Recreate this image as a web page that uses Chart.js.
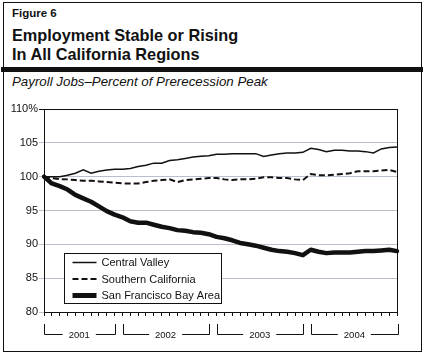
<!DOCTYPE html>
<html>
<head>
<meta charset="utf-8">
<script src="https://cdn.jsdelivr.net/npm/chart.js@4.4.1/dist/chart.umd.min.js"></script>
<style>
  html, body { margin: 0; padding: 0; background: #fff; }
  body { width: 428px; height: 355px; position: relative; overflow: hidden; font-family: "Liberation Sans", Arial, sans-serif; color: #111; }
  #frame { position: absolute; left: 3px; top: 2px; width: 417px; height: 348px; border: 1px solid #111; box-sizing: content-box; }
  #rule { position: absolute; left: 1px; top: 67px; width: 422px; height: 5px; background: #111; }
  .t { position: absolute; white-space: nowrap; }
  #fig { left: 12px; top: 7px; font-size: 11.5px; font-weight: bold; }
  #title { left: 12px; top: 26px; font-size: 16.3px; font-weight: bold; line-height: 18.5px; }
  #sub { left: 12px; top: 74px; font-size: 13.3px; font-style: italic; }
  canvas { position: absolute; left: 0; top: 0; }
</style>
</head>
<body>
<div id="frame"></div>
<div id="rule"></div>
<div class="t" id="fig">Figure 6</div>
<div class="t" id="title">Employment Stable or Rising<br>In All California Regions</div>
<div class="t" id="sub">Payroll Jobs–Percent of Prerecession Peak</div>
<canvas id="c" width="428" height="355"></canvas>
<script>
const months = [
  'Mar 2001','Apr 2001','May 2001','Jun 2001','Jul 2001','Aug 2001','Sep 2001','Oct 2001','Nov 2001','Dec 2001',
  'Jan 2002','Feb 2002','Mar 2002','Apr 2002','May 2002','Jun 2002','Jul 2002','Aug 2002','Sep 2002','Oct 2002','Nov 2002','Dec 2002',
  'Jan 2003','Feb 2003','Mar 2003','Apr 2003','May 2003','Jun 2003','Jul 2003','Aug 2003','Sep 2003','Oct 2003','Nov 2003','Dec 2003',
  'Jan 2004','Feb 2004','Mar 2004','Apr 2004','May 2004','Jun 2004','Jul 2004','Aug 2004','Sep 2004','Oct 2004','Nov 2004','Dec 2004'
];
const years = ['2001','2002','2003','2004'];
const yTicks = [80, 85, 90, 95, 100, 105, 110];
const seriesNames = ['Central Valley','Southern California','San Francisco Bay Area'];

const centralValley = [
  100.0,100.0,100.0,100.2,100.5,101.0,100.5,100.8,101.0,101.1,
  101.1,101.2,101.5,101.7,102.0,102.0,102.4,102.5,102.7,102.9,103.0,103.1,
  103.3,103.3,103.4,103.4,103.4,103.4,103.0,103.2,103.4,103.5,103.5,103.6,
  104.2,104.0,103.7,103.9,103.9,103.8,103.8,103.7,103.5,104.1,104.3,104.4
];
const southernCalifornia = [
  100.0,99.8,99.65,99.6,99.5,99.4,99.4,99.3,99.2,99.1,
  99.0,99.0,99.0,99.2,99.4,99.5,99.6,99.2,99.5,99.6,99.7,99.8,
  99.8,99.6,99.5,99.6,99.6,99.7,99.9,99.9,99.8,99.8,99.6,99.5,
  100.4,100.2,100.2,100.3,100.4,100.5,100.8,100.8,100.8,100.9,101.0,100.7
];
const sfBayArea = [
  100.0,99.0,98.6,98.1,97.3,96.8,96.3,95.6,94.9,94.4,
  94.0,93.4,93.2,93.2,92.9,92.6,92.4,92.1,92.0,91.8,91.7,91.5,
  91.1,90.9,90.6,90.2,90.0,89.8,89.5,89.2,89.0,88.9,88.7,88.4,
  89.2,88.9,88.7,88.8,88.8,88.8,88.9,89.0,89.0,89.1,89.2,89.0
];

const INK = '#111111';
const FONT = '"Liberation Sans", Arial, sans-serif';

const decorPlugin = {
  id: 'decor',
  afterDraw(chart) {
    const ctx = chart.ctx;
    const a = chart.chartArea;
    const xs = chart.scales.x;
    ctx.save();
    ctx.strokeStyle = INK;
    ctx.lineWidth = 1;
    ctx.beginPath();
    ctx.moveTo(a.left - 5, Math.round(a.top) + 0.5);
    ctx.lineTo(a.right + 0.5, Math.round(a.top) + 0.5);
    ctx.moveTo(Math.round(a.right) + 0.5, a.top);
    ctx.lineTo(Math.round(a.right) + 0.5, a.bottom + 4);
    ctx.stroke();

    const n = months.length;
    const top = a.bottom + 12, bot = a.bottom + 22;
    ctx.font = '9.5px ' + FONT;
    ctx.fillStyle = INK;
    ctx.textAlign = 'center';
    ctx.textBaseline = 'middle';
    years.forEach(y => {
      let first = -1, last = -1;
      months.forEach((m, i) => { if (m.endsWith(y)) { if (first < 0) first = i; last = i; } });
      const left = first === 0 ? xs.getPixelForValue(first) : (xs.getPixelForValue(first - 1) + xs.getPixelForValue(first)) / 2 + 4;
      const right = last === n - 1 ? xs.getPixelForValue(last) + 1 : (xs.getPixelForValue(last) + xs.getPixelForValue(last + 1)) / 2 - 4;
      const cx = (left + right) / 2;
      const tw = ctx.measureText(y).width;
      ctx.beginPath();
      ctx.moveTo(Math.round(left) + 0.5, top);
      ctx.lineTo(Math.round(left) + 0.5, bot + 0.5);
      ctx.lineTo(cx - tw / 2 - 6, bot + 0.5);
      ctx.moveTo(cx + tw / 2 + 6, bot + 0.5);
      ctx.lineTo(Math.round(right) + 0.5, bot + 0.5);
      ctx.lineTo(Math.round(right) + 0.5, top);
      ctx.stroke();
      ctx.fillText(y, cx, bot + 1);
    });

    const bx = a.left + 20.5, by = a.bottom - 58.5, bw = 157, bh = 50;
    ctx.fillStyle = '#fff';
    ctx.fillRect(bx, by, bw, bh);
    ctx.strokeStyle = INK;
    ctx.lineWidth = 1;
    ctx.strokeRect(bx, by, bw, bh);
    const rows = [9, 25.5, 42];
    ctx.font = '11px ' + FONT;
    ctx.textAlign = 'left';
    ctx.textBaseline = 'middle';
    chart.data.datasets.forEach((ds, i) => {
      const yy = by + rows[i];
      ctx.beginPath();
      ctx.strokeStyle = ds.borderColor;
      ctx.lineWidth = i === 2 ? 5 : ds.borderWidth;
      ctx.setLineDash(ds.borderDash || []);
      ctx.moveTo(bx + 8, yy);
      ctx.lineTo(bx + 32, yy);
      ctx.stroke();
      ctx.setLineDash([]);
      ctx.fillStyle = INK;
      ctx.fillText(ds.label, bx + 37, yy + 0.5);
    });
    ctx.restore();
  }
};

new Chart(document.getElementById('c'), {
  type: 'line',
  data: {
    labels: months,
    datasets: [
      { label: seriesNames[0], data: centralValley, borderColor: INK, borderWidth: 1.5, pointRadius: 0, tension: 0 },
      { label: seriesNames[1], data: southernCalifornia, borderColor: INK, borderWidth: 2, borderDash: [6, 3], pointRadius: 0, tension: 0 },
      { label: seriesNames[2], data: sfBayArea, borderColor: INK, borderWidth: 4.5, pointRadius: 0, tension: 0, borderJoinStyle: 'round', borderCapStyle: 'round' }
    ]
  },
  options: {
    responsive: false,
    animation: false,
    layout: { padding: { left: 0, right: 31, top: 109, bottom: 0 } },
    plugins: { legend: { display: false }, tooltip: { enabled: false } },
    scales: {
      x: {
        type: 'category',
        offset: false,
        ticks: { display: false, autoSkip: false },
        grid: { display: true, drawOnChartArea: false, drawTicks: true, tickLength: 4, color: INK, offset: false },
        border: { display: true, color: INK, width: 1 },
        afterFit: s => { s.height = 43; }
      },
      y: {
        min: 80, max: 110,
        afterBuildTicks: s => { s.ticks = yTicks.map(v => ({ value: v })); },
        ticks: {
          font: { family: FONT, size: 11 }, color: INK, padding: 1,
          callback: v => v === 110 ? '110%' : String(v)
        },
        grid: { color: '#b9c0ca', tickLength: 5, lineWidth: 1 },
        border: { display: true, color: INK, width: 1 },
        afterFit: s => { s.width = 44; }
      }
    }
  },
  plugins: [decorPlugin]
});
</script>
</body>
</html>
